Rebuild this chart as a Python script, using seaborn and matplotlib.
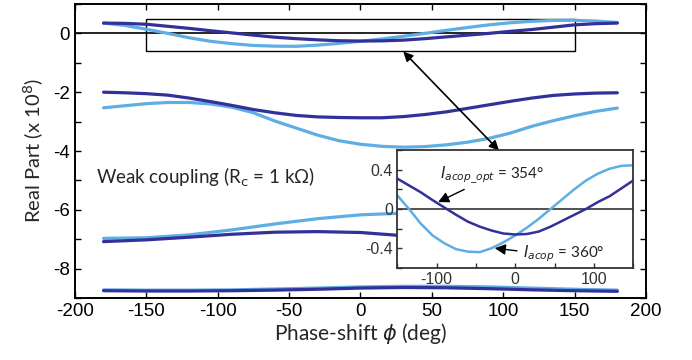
import numpy as np
import pandas as pd
import matplotlib
matplotlib.use("Agg")
import matplotlib.pyplot as plt
import seaborn as sns
from matplotlib.patches import Rectangle
from matplotlib.ticker import MultipleLocator

# phase grids (deg)
phi_fine = [-180, -165, -150, -135, -120, -105, -90, -75, -60, -45, -30, -15, 0,
            15, 30, 45, 60, 75, 90, 105, 120, 135, 150, 165, 180]
phi_coarse = [-180, -150, -120, -90, -60, -30, 0, 30, 60, 90, 120, 150, 180]

# pair 1 (near 0, also shown in inset)
p1_dark = [0.35, 0.34, 0.31, 0.24, 0.17, 0.09, 0.015, -0.06, -0.13, -0.18, -0.22, -0.25, -0.26,
           -0.255, -0.23, -0.18, -0.12, -0.06, 0.0, 0.07, 0.13, 0.21, 0.29, 0.33, 0.35]
p1_light = [0.35, 0.27, 0.14, 0.0, -0.15, -0.27, -0.35, -0.41, -0.435, -0.44, -0.40, -0.34, -0.27,
            -0.19, -0.10, 0.0, 0.10, 0.20, 0.29, 0.36, 0.41, 0.44, 0.445, 0.42, 0.37]

# pair 2 (around -2 .. -4)
p2_dark = [-2.00, -2.02, -2.05, -2.10, -2.20, -2.32, -2.45, -2.59, -2.70, -2.79, -2.84, -2.86, -2.87,
           -2.87, -2.83, -2.76, -2.67, -2.55, -2.43, -2.31, -2.20, -2.11, -2.06, -2.03, -2.02]
p2_light = [-2.53, -2.46, -2.39, -2.35, -2.35, -2.40, -2.51, -2.70, -2.98, -3.22, -3.46, -3.65, -3.77,
            -3.84, -3.87, -3.85, -3.79, -3.70, -3.57, -3.39, -3.16, -2.97, -2.80, -2.65, -2.54]

# pair 3 (around -6 .. -7)
p3_dark = [-7.08, -7.02, -6.93, -6.83, -6.76, -6.74, -6.77, -6.88, -6.98, -7.08, -7.13, -7.12, -7.08]
p3_light = [-6.97, -6.95, -6.85, -6.68, -6.48, -6.30, -6.17, -6.11, -6.12, -6.25, -6.50, -6.80, -6.97]

# pair 4 (around -8.7)
p4_dark = [-8.75, -8.76, -8.76, -8.75, -8.73, -8.70, -8.66, -8.64, -8.65, -8.68, -8.72, -8.75, -8.77]
p4_light = [-8.72, -8.73, -8.73, -8.72, -8.69, -8.66, -8.62, -8.60, -8.60, -8.62, -8.66, -8.70, -8.73]

dark = "#32309a"
light = "#5eaee4"

sns.set_style("ticks")
plt.rcParams['font.family'] = ['Liberation Sans', 'DejaVu Sans']
plt.rcParams['axes.unicode_minus'] = False
plt.rcParams['mathtext.fontset'] = 'dejavusans'
label_font = ['Lato', 'DejaVu Sans']

fig = plt.figure(figsize=(6.92, 3.6), dpi=100)
ax = fig.add_axes([0.1084, 0.172, 0.825, 0.817])

pairs = [(phi_fine, p1_light, p1_dark), (phi_fine, p2_light, p2_dark),
         (phi_coarse, p3_light, p3_dark), (phi_coarse, p4_light, p4_dark)]
for phi, yl, yd in pairs:
    sns.lineplot(x=phi, y=yl, ax=ax, color=light, linewidth=2.3, sort=False)
    sns.lineplot(x=phi, y=yd, ax=ax, color=dark, linewidth=2.3, sort=False)

ax.axhline(0, color="black", linewidth=1.2, zorder=1)
ax.add_patch(Rectangle((-150, -0.6), 300, 1.08, fill=False, edgecolor="black", linewidth=1.0))

ax.set_xlim(-200, 200)
ax.set_ylim(-9, 1)
ax.xaxis.set_major_locator(MultipleLocator(50))
ax.yaxis.set_major_locator(MultipleLocator(2))
ax.yaxis.set_minor_locator(MultipleLocator(1))
ax.tick_params(which="both", direction="in", top=True, right=True, length=4, width=1.0,
               labelsize=13.5, colors="black")
for s in ax.spines.values():
    s.set_linewidth(1.4)
    s.set_color("black")

ax.set_xlabel(r"Phase-shift $\phi$ (deg)", fontsize=15, family=label_font, labelpad=1)
ax.set_ylabel(r"Real Part (x 10$^8$)", fontsize=14.5, family=label_font, labelpad=5)

ax.text(-185, -4.9, r"Weak coupling (R$_\mathrm{c}$ = 1 kΩ)", fontsize=13.5, va="center",
        family=label_font)

# connecting arrow from rectangle to inset
ax.annotate("", xy=(30, -0.62), xytext=(97, -3.98),
            arrowprops=dict(arrowstyle="<|-|>", color="black", lw=1.2,
                            mutation_scale=14, shrinkA=0, shrinkB=0))

# inset
ins = fig.add_axes([0.574, 0.256, 0.341, 0.327])
ins.set_facecolor("white")
sns.lineplot(x=phi_fine, y=p1_light, ax=ins, color=light, linewidth=1.8, sort=False)
sns.lineplot(x=phi_fine, y=p1_dark, ax=ins, color=dark, linewidth=1.8, sort=False)
ins.axhline(0, color="#333333", linewidth=1.2, zorder=1)
ins.set_xlim(-150, 150)
ins.set_ylim(-0.6, 0.6)
ins.set_xticks([-100, 0, 100])
ins.xaxis.set_minor_locator(MultipleLocator(50))
ins.set_yticks([-0.4, 0, 0.4])
ins.set_yticklabels(["-0.4", "0", "0.4"])
ins.yaxis.set_minor_locator(MultipleLocator(0.2))
ins.tick_params(which="both", direction="in", length=3.5, width=1.0, labelsize=11.5, colors="#333333",
                pad=3)
for s in ins.spines.values():
    s.set_linewidth(1.3)
    s.set_color("#333333")

ins.annotate(r"$I_{acop\_opt}$ = 354°", xy=(-98, 0.07), xytext=(-96, 0.34),
             fontsize=11, va="center", family=label_font, color="#222222",
             arrowprops=dict(arrowstyle="-|>", color="black", lw=1.0, mutation_scale=16,
                             shrinkA=0, shrinkB=0, relpos=(0.3, 0.0)))
ins.annotate(r"$I_{acop}$ = 360°", xy=(-26, -0.40), xytext=(10, -0.455),
             fontsize=11, va="center", family=label_font, color="#222222",
             arrowprops=dict(arrowstyle="-|>", color="black", lw=1.0, mutation_scale=16,
                             shrinkA=2, shrinkB=0, relpos=(0.0, 0.6)))

fig.savefig("out.png", dpi=100)
